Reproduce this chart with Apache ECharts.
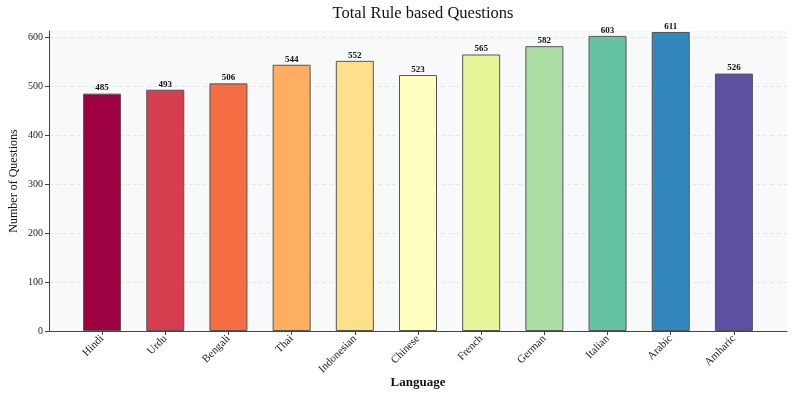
<!DOCTYPE html>
<html>
<head>
<meta charset="utf-8">
<script src="https://cdn.jsdelivr.net/npm/echarts@6/dist/echarts.min.js"></script>
<style>
  html, body { margin: 0; padding: 0; background: #fff; }
  #main { width: 793px; height: 393px; }
</style>
</head>
<body>
<div id="main"></div>
<script>
var languages = ['Hindi', 'Urdu', 'Bengali', 'Thai', 'Indonesian', 'Chinese', 'French', 'German', 'Italian', 'Arabic', 'Amharic'];
var questions = [485, 493, 506, 544, 552, 523, 565, 582, 603, 611, 526];
var barColors = ['#9e0142', '#d53e4f', '#f46d43', '#fdae61', '#fee08b', '#ffffbf', '#e6f598', '#abdda4', '#66c2a5', '#3288bd', '#5e4fa2'];
var yTicks = [0, 100, 200, 300, 400, 500, 600];

var font = '"Liberation Serif", "DejaVu Serif", serif';
var myChart = echarts.init(document.getElementById('main'));

// positions 0..10, one bar per language
var idx = languages.map((_, i) => i);

myChart.setOption({
    animation: false,
    textStyle: { fontFamily: font },
    title: {
        text: 'Total Rule based Questions',
        left: 418,
        textAlign: 'center',
        top: 0,
        textStyle: { fontFamily: font, fontSize: 16.5, fontWeight: 'normal', color: '#111' }
    },
    grid: {
        left: 49, right: 6, top: 31, bottom: 62,
        containLabel: false, outerBoundsMode: 'none',
        show: true, backgroundColor: '#f8f9fa', borderWidth: 0
    },
    xAxis: {
        type: 'value',
        min: -0.84,
        max: 10.84,
        name: 'Language',
        nameLocation: 'middle',
        nameGap: 45,
        nameMoveOverlap: false,
        nameTextStyle: { fontFamily: font, fontSize: 13, fontWeight: 'bold', color: '#111' },
        axisLine: { show: true, onZero: false, lineStyle: { color: '#444', width: 1 } },
        axisTick: { show: true, customValues: idx, length: 4, lineStyle: { color: '#444' } },
        axisLabel: {
            customValues: idx,
            rotate: 45,
            fontSize: 11,
            color: '#222',
            margin: 6,
            formatter: v => languages[Math.round(v)] || ''
        },
        splitLine: { show: false }
    },
    yAxis: {
        type: 'value',
        min: 0,
        max: 613,
        name: 'Number of Questions',
        nameLocation: 'middle',
        nameGap: 29,
        nameMoveOverlap: false,
        nameTextStyle: { fontFamily: font, fontSize: 12, color: '#111' },
        axisLine: { show: true, onZero: false, lineStyle: { color: '#444', width: 1 } },
        axisTick: { show: true, customValues: yTicks, length: 4, lineStyle: { color: '#444' } },
        axisLabel: { customValues: yTicks, fontSize: 10, color: '#222', margin: 6 },
        splitLine: { show: true, lineStyle: { color: '#dcdcdc', type: [4, 3], width: 0.7 } }
    },
    series: [{
        type: 'bar',
        barWidth: 38,
        data: questions.map((v, i) => ({
            value: [i, v],
            itemStyle: { color: barColors[i], opacity: 1, borderColor: '#555', borderWidth: 1 }
        })),
        label: {
            show: true,
            position: 'top',
            distance: 1,
            fontFamily: font,
            fontSize: 9,
            fontWeight: 'bold',
            color: '#111',
            formatter: p => p.value[1]
        }
    }]
})
</script>
</body>
</html>
